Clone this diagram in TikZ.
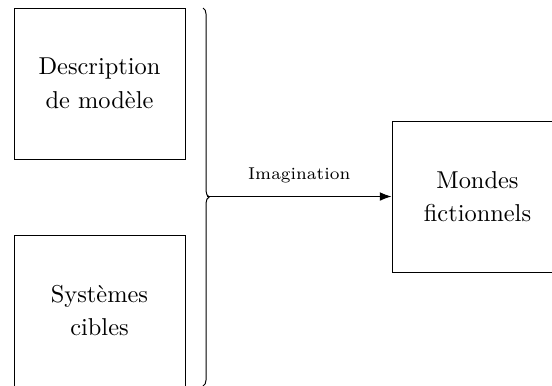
\documentclass[tikz,border=0pt]{standalone}
\usetikzlibrary{decorations.pathreplacing,arrows.meta}
\begin{document}
\begin{tikzpicture}[x=0.4098pt,y=-0.4098pt,
  boxnode/.style={draw,inner sep=0pt,minimum width=70.08pt,minimum height=61.88pt,align=center,font=\fontsize{10}{13.8}\selectfont},
  bracestyle/.style={decorate,decoration={brace,amplitude=2.5pt}},
  arrowstyle/.style={-{Latex}}]
\useasboundingbox (0,0) rectangle (552,385);
\node[boxnode] (b1) at (99.5,83.5) {Description\\de modèle};
\node[boxnode] (b2) at (99.5,310.5) {Systèmes\\cibles};
\node[boxnode] (b3) at (477.5,196.5) {Mondes\\fictionnels};
\coordinate (bt) at (203,8);
\coordinate (bb) at (203,386);
\coordinate (tip) at (207,196.5);
\draw[bracestyle] (bt) -- (bb);
\draw[arrowstyle] (tip) -- node[above,font=\scriptsize,yshift=2pt] (lab) {Imagination} (b3.west);
\end{tikzpicture}
\end{document}
